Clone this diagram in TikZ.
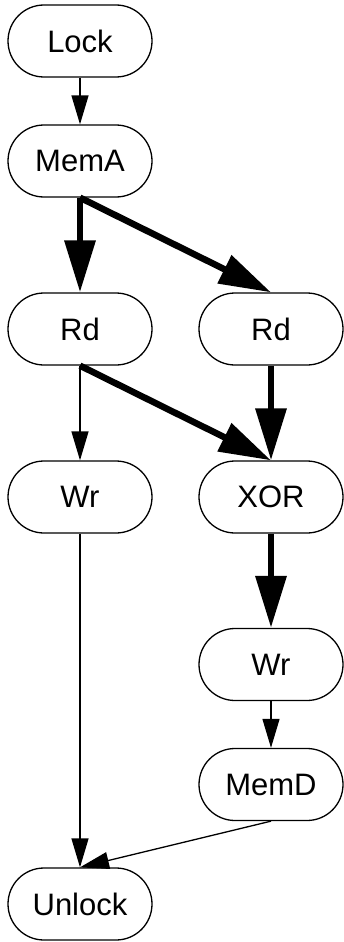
\documentclass[tikz,border=0pt]{standalone}
\usepackage{fontspec}
\setmainfont{Liberation Sans}
\usetikzlibrary{arrows.meta}
\begin{document}
\begin{tikzpicture}[x=1pt,y=-1pt,
  op/.style={draw, line width=1.3pt, rounded corners=36pt, minimum width=144pt, minimum height=72pt,
    inner sep=0pt, font=\fontsize{31}{36}\selectfont},
  thin/.style={line width=1.3pt, -{Triangle[length=29pt,width=17pt]}},
  thick/.style={line width=6.5pt, -{Triangle[length=52pt,width=30pt]}}]
\useasboundingbox (0,0) rectangle (343,942);
\node[op] (lock) at (80,41) {Lock};
\node[op] (mema) at (80,161) {MemA};
\node[op] (rd1) at (80,329) {Rd};
\node[op] (rd2) at (271,329) {Rd};
\node[op] (wr1) at (80,497) {Wr};
\node[op] (xor) at (271,497) {XOR};
\node[op] (wr2) at (271,664.5) {Wr};
\node[op] (memd) at (271,784.5) {MemD};
\node[op] (unlock) at (80,904) {Unlock};
\draw[thin] (lock.south) -- (mema.north);
\draw[thick] (mema.south) -- (rd1.north);
\draw[thick] (mema.south) -- (rd2.north);
\draw[thin] (rd1.south) -- (wr1.north);
\draw[thick] (rd1.south) -- (xor.north);
\draw[thick] (rd2.south) -- (xor.north);
\draw[thick] (xor.south) -- (wr2.north);
\draw[thin] (wr2.south) -- (memd.north);
\draw[thin] (wr1.south) -- (unlock.north);
\draw[thin] (memd.south) -- (unlock.north);
\end{tikzpicture}
\end{document}
